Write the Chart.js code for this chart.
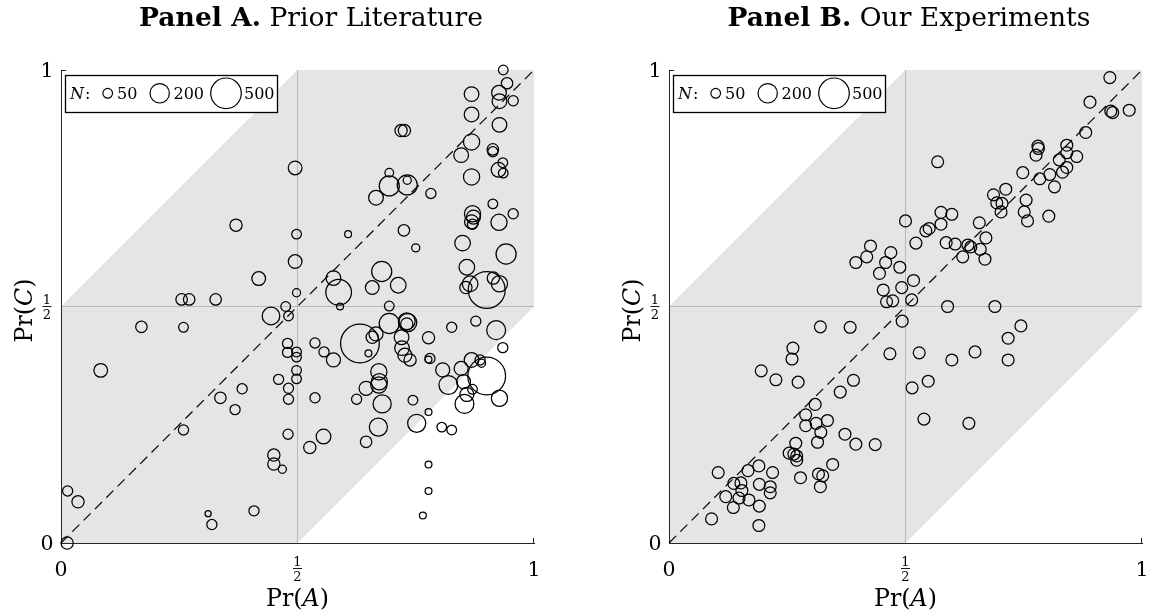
<!DOCTYPE html>
<html>
<head>
<meta charset="utf-8">
<script src="https://cdn.jsdelivr.net/npm/chart.js@4.4.1/dist/chart.umd.min.js"></script>
<style>
  body { margin: 0; background: #fff; }
  #wrap { position: relative; width: 1150px; height: 613px; }
  canvas { position: absolute; top: 0; }
</style>
</head>
<body>
<div id="wrap">
  <canvas id="chartA" width="575" height="613" style="left:0"></canvas>
  <canvas id="chartB" width="575" height="613" style="left:575px"></canvas>
</div>
<script>
// Panel A: prior literature -- Pr(A), Pr(C) and sample size N of each study
const litPrA = [
  0.370,0.495,0.498,0.495,0.418,0.498,0.255,0.271,0.327,0.475,
  0.444,0.481,0.170,0.259,0.084,0.479,0.479,0.460,0.481,0.481,
  0.480,0.450,0.450,0.468,0.408,0.383,0.337,0.368,0.259,0.311,
  0.319,0.014,0.036,0.013,0.498,0.498,0.498,0.498,0.590,0.587,
  0.694,0.900,0.632,0.650,0.658,0.666,0.694,0.731,0.733,0.731,
  0.720,0.721,0.727,0.738,0.777,0.780,0.777,0.826,0.877,0.920,
  0.934,0.537,0.556,0.576,0.537,0.625,0.645,0.672,0.673,0.672,
  0.679,0.671,0.645,0.555,0.526,0.744,0.777,0.752,0.805,0.826,
  0.807,0.819,0.846,0.868,0.886,0.889,0.900,0.851,0.858,0.870,
  0.853,0.927,0.777,0.777,0.765,0.935,0.943,0.926,0.927,0.956,
  0.868,0.868,0.927,0.868,0.846,0.913,0.913,0.934,0.925,0.935,
  0.868,0.719,0.726,0.694,0.694,0.732,0.732,0.666,0.782,0.913,
  0.956,0.870,0.872,0.868,0.870,0.926,0.725,0.607,0.750,0.849,
  0.941,0.858,0.678,0.576,0.658,0.713,0.865,0.856,0.914,0.927
];
const litPrC = [
  0.672,0.793,0.653,0.595,0.559,0.529,0.515,0.515,0.515,0.500,
  0.480,0.480,0.457,0.456,0.365,0.422,0.403,0.346,0.327,0.304,
  0.230,0.186,0.167,0.156,0.068,0.326,0.307,0.282,0.239,0.062,
  0.039,0.110,0.087,0.000,0.404,0.393,0.365,0.347,0.500,0.530,
  0.501,0.535,0.422,0.401,0.435,0.442,0.464,0.469,0.466,0.463,
  0.435,0.412,0.397,0.387,0.434,0.390,0.388,0.456,0.469,0.450,
  0.413,0.423,0.404,0.387,0.307,0.304,0.327,0.362,0.341,0.334,
  0.294,0.245,0.214,0.225,0.202,0.302,0.277,0.253,0.245,0.239,
  0.366,0.334,0.369,0.387,0.387,0.380,0.353,0.341,0.314,0.325,
  0.294,0.306,0.166,0.110,0.058,1.000,0.972,0.952,0.934,0.935,
  0.949,0.906,0.884,0.848,0.820,0.832,0.827,0.804,0.789,0.782,
  0.774,0.872,0.872,0.783,0.755,0.757,0.767,0.730,0.739,0.717,
  0.696,0.696,0.689,0.679,0.674,0.678,0.661,0.653,0.624,0.634,
  0.611,0.583,0.574,0.560,0.540,0.545,0.548,0.540,0.560,0.548
];
const litN = [
  80,100,50,100,100,35,70,70,70,50,
  165,50,70,50,100,55,55,55,55,55,
  55,80,80,35,55,55,70,55,55,20,
  55,55,80,80,50,50,50,50,25,350,
  50,725,800,25,80,105,215,150,175,80,
  115,115,105,80,80,55,25,55,55,190,
  55,55,55,105,55,55,105,140,140,140,
  175,175,70,115,80,50,25,175,50,50,
  105,190,105,115,55,35,760,105,105,50,
  190,140,25,25,25,50,70,115,115,55,
  115,115,115,140,115,70,55,50,115,50,
  140,80,80,40,215,215,35,115,55,50,
  55,140,105,105,55,140,70,25,35,130,
  215,130,215,115,100,130,130,80,80,140
];

// Panel B: our experiments -- all sessions have about the same N
const expPrA = [
  0.395,0.418,0.426,0.469,0.458,0.445,0.488,0.453,0.460,0.473,
  0.492,0.932,0.890,0.934,0.938,0.973,0.881,0.780,0.781,0.776,
  0.841,0.841,0.862,0.825,0.841,0.832,0.805,0.784,0.748,0.815,
  0.568,0.712,0.686,0.693,0.704,0.702,0.755,0.751,0.758,0.803,
  0.500,0.575,0.598,0.575,0.550,0.543,0.522,0.586,0.605,0.632,
  0.638,0.656,0.670,0.658,0.621,0.668,0.517,0.513,0.589,0.689,
  0.493,0.320,0.383,0.262,0.260,0.467,0.195,0.226,0.273,0.390,
  0.362,0.309,0.289,0.289,0.311,0.335,0.321,0.314,0.372,0.395,
  0.436,0.268,0.254,0.264,0.270,0.270,0.346,0.316,0.325,0.320,
  0.278,0.104,0.190,0.167,0.219,0.137,0.152,0.154,0.191,0.214,
  0.214,0.120,0.148,0.169,0.136,0.191,0.090,0.190,0.744,0.717,
  0.529,0.598,0.647,0.717,0.548,0.514,0.539,0.634
];
const expPrC = [
  0.593,0.605,0.628,0.614,0.593,0.570,0.583,0.535,0.510,0.512,
  0.540,0.984,0.932,0.913,0.910,0.915,0.868,0.839,0.834,0.820,
  0.841,0.825,0.817,0.810,0.794,0.784,0.779,0.770,0.783,0.753,
  0.806,0.748,0.736,0.719,0.718,0.700,0.725,0.700,0.681,0.691,
  0.681,0.699,0.695,0.674,0.665,0.660,0.634,0.635,0.632,0.630,
  0.626,0.677,0.645,0.621,0.605,0.600,0.555,0.514,0.500,0.500,
  0.469,0.457,0.456,0.412,0.389,0.400,0.364,0.345,0.340,0.344,
  0.319,0.293,0.271,0.248,0.253,0.259,0.234,0.213,0.230,0.209,
  0.208,0.211,0.190,0.188,0.184,0.175,0.166,0.146,0.142,0.119,
  0.138,0.149,0.163,0.153,0.149,0.126,0.127,0.111,0.124,0.119,
  0.106,0.098,0.095,0.091,0.075,0.078,0.051,0.037,0.459,0.433,
  0.402,0.387,0.404,0.387,0.342,0.328,0.262,0.253
];
const expN = 75;

const axisTicks = [0, 0.5, 1];
const legendN = [50, 200, 500];
const bandHalfWidth = 0.5;   // grey band |Pr(C) - Pr(A)| <= 1/2

const FONT = '"DejaVu Serif"';
const AXIS_COLOR = '#262626';
const R_PER_SQRT_N = 0.685;

function radius(n) { return R_PER_SQRT_N * Math.sqrt(n); }

function toPoints(xs, ys, ns) {
  return xs.map((x, i) => ({ x: x, y: ys[i], r: radius(Array.isArray(ns) ? ns[i] : ns) }));
}

function partsWidth(ctx, parts, size) {
  let w = 0;
  parts.forEach(p => {
    ctx.font = p[0] + ' ' + size + 'px ' + FONT;
    w += ctx.measureText(p[1]).width;
  });
  return w;
}

function drawParts(ctx, parts, size, cx, baseY) {
  let px = cx - partsWidth(ctx, parts, size) / 2;
  ctx.textAlign = 'left';
  ctx.textBaseline = 'alphabetic';
  parts.forEach(p => {
    ctx.font = p[0] + ' ' + size + 'px ' + FONT;
    ctx.fillText(p[1], px, baseY);
    px += ctx.measureText(p[1]).width;
  });
}

function fitSize(ctx, parts, width) {
  return 100 * width / partsWidth(ctx, parts, 100);
}

// tick label centred on (cx, cy); 0.5 is written as a stacked fraction
function drawTickLabel(ctx, v, cx, cy) {
  ctx.fillStyle = '#000';
  ctx.textAlign = 'center';
  ctx.textBaseline = 'alphabetic';
  if (v === 0.5) {
    const s = 13, h = 0.73 * s;
    ctx.font = s + 'px ' + FONT;
    ctx.fillText('1', cx, cy - 2.2);
    ctx.fillText('2', cx, cy + 2.6 + h);
    ctx.fillRect(cx - 4.5, cy - 0.5, 9, 0.9);
  } else {
    const s = 20.5;
    ctx.font = s + 'px ' + FONT;
    ctx.fillText(String(v), cx, cy + 0.73 * s / 2);
  }
}

const panelDecor = {
  id: 'panelDecor',
  beforeDraw(chart) {
    const { ctx, scales: { x, y } } = chart;
    const b = bandHalfWidth;
    const poly = [[0, 0], [0, b], [1 - b, 1], [1, 1], [1, 1 - b], [b, 0]];
    ctx.save();
    ctx.fillStyle = '#e5e5e5';
    ctx.beginPath();
    poly.forEach((p, i) => {
      const px = x.getPixelForValue(p[0]), py = y.getPixelForValue(p[1]);
      if (i) ctx.lineTo(px, py); else ctx.moveTo(px, py);
    });
    ctx.closePath();
    ctx.fill();
    ctx.restore();
  },
  afterDraw(chart, args, opts) {
    const { ctx, chartArea: a, scales: { x, y } } = chart;
    ctx.save();

    // small inward ticks at the far ends of the axes
    ctx.strokeStyle = AXIS_COLOR;
    ctx.lineWidth = 1;
    ctx.beginPath();
    ctx.moveTo(a.left, a.top + 0.5); ctx.lineTo(a.left + 5, a.top + 0.5);
    ctx.moveTo(a.right - 0.5, a.bottom); ctx.lineTo(a.right - 0.5, a.bottom - 5);
    ctx.stroke();

    // tick labels
    axisTicks.forEach(v => {
      drawTickLabel(ctx, v, x.getPixelForValue(v), a.bottom + 25.5);
      drawTickLabel(ctx, v, a.left - 14, y.getPixelForValue(v));
    });

    // axis titles
    const xParts = [['', 'Pr('], ['italic', 'A'], ['', ')']];
    const yParts = [['', 'Pr('], ['italic', 'C'], ['', ')']];
    const labSize = fitSize(ctx, xParts, 63);
    ctx.fillStyle = '#000';
    drawParts(ctx, xParts, labSize, x.getPixelForValue(0.5), a.bottom + 63);
    ctx.save();
    ctx.translate(a.left - 29, (a.top + a.bottom) / 2 + 4);
    ctx.rotate(-Math.PI / 2);
    drawParts(ctx, yParts, labSize, 0, 0);
    ctx.restore();

    // panel title
    const fit = [['bold', 'Panel A.'], ['', ' Prior Literature']];
    const tSize = fitSize(ctx, fit, 344);
    drawParts(ctx, [['bold', opts.bold], ['', opts.rest]], tSize, opts.titleX, 25.5);

    // N legend box
    ctx.fillStyle = '#fff';
    ctx.fillRect(a.left + 4, a.top + 5, 213, 38);
    ctx.strokeStyle = '#000';
    ctx.lineWidth = 1.3;
    ctx.strokeRect(a.left + 4.5, a.top + 5.5, 212, 37);
    ctx.fillStyle = '#000';
    ctx.textAlign = 'left';
    ctx.textBaseline = 'alphabetic';
    const ly = a.top + 28.5, cy = a.top + 23.3;
    ctx.font = 'italic 16px ' + FONT;
    ctx.fillText('N', a.left + 9, ly);
    let nw = ctx.measureText('N').width;
    ctx.font = '16px ' + FONT;
    ctx.fillText(':', a.left + 9 + nw + 1, ly);
    const circX = [46.7, 98.7, 165];
    const textX = [56, 112.5, 183];
    ctx.lineWidth = 1.2;
    legendN.forEach((n, i) => {
      ctx.beginPath();
      ctx.arc(a.left + circX[i], cy, radius(n), 0, Math.PI * 2);
      ctx.stroke();
      ctx.fillText(String(n), a.left + textX[i], ly);
    });
    ctx.restore();
  }
};

function axisOpts(isX) {
  return {
    type: 'linear',
    min: 0,
    max: 1,
    afterFit(s) { if (isX) s.height = 0; else s.width = 0; },
    ticks: { display: false, stepSize: 0.5 },
    grid: {
      drawTicks: false,
      tickLength: 0,
      lineWidth: 1,
      color: c => (c.tick && c.tick.value === 0.5) ? '#b9b9b9' : 'rgba(0,0,0,0)'
    },
    border: { display: true, color: AXIS_COLOR, width: 1 }
  };
}

function makePanel(id, points, padLeft, padRight, title) {
  return new Chart(document.getElementById(id), {
    type: 'bubble',
    data: {
      datasets: [
        {
          type: 'bubble',
          data: points,
          borderColor: '#000',
          backgroundColor: 'rgba(0,0,0,0)',
          borderWidth: 1.25,
          clip: false
        },
        {
          type: 'line',
          data: [{ x: 0, y: 0 }, { x: 1, y: 1 }],
          borderColor: '#000',
          borderWidth: 1.2,
          borderDash: [10, 6],
          pointRadius: 0,
          fill: false,
          clip: false
        }
      ]
    },
    options: {
      responsive: false,
      animation: false,
      devicePixelRatio: 1,
      events: [],
      layout: { padding: { left: padLeft, right: padRight, top: 70, bottom: 70 } },
      plugins: {
        legend: { display: false },
        tooltip: { enabled: false },
        panelDecor: title
      },
      scales: { x: axisOpts(true), y: axisOpts(false) }
    },
    plugins: [panelDecor]
  });
}

makePanel('chartA', toPoints(litPrA, litPrC, litN), 61, 41,
  { bold: 'Panel A.', rest: ' Prior Literature', titleX: 311 });
makePanel('chartB', toPoints(expPrA, expPrC, expN), 94, 8,
  { bold: 'Panel B.', rest: ' Our Experiments', titleX: 334 });
</script>
</body>
</html>
